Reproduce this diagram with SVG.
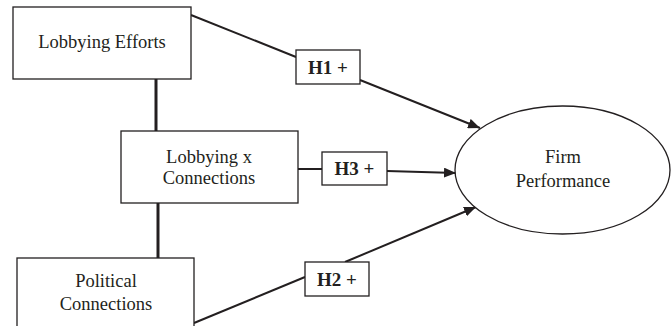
<svg xmlns="http://www.w3.org/2000/svg" width="672" height="326" viewBox="0 0 672 326">
<defs>
<style>
.box{fill:#fff;stroke:#231f20;stroke-width:1.3}
.t{font-family:"Liberation Serif","Times New Roman",serif;font-size:18.5px;fill:#231f20;text-anchor:middle}
.h{font-family:"Liberation Serif","Times New Roman",serif;font-size:19px;font-weight:bold;fill:#231f20;text-anchor:middle}
.ln{stroke:#231f20;stroke-width:2;fill:none}
.thick{stroke:#231f20;stroke-width:3;fill:none}
</style>
<marker id="arr" viewBox="0 0 12 10" refX="12" refY="5" markerWidth="12" markerHeight="10" markerUnits="userSpaceOnUse" orient="auto">
<path d="M0,0 L12,5 L0,10 z" fill="#231f20"/>
</marker>
</defs>
<rect width="672" height="326" fill="#fff"/>
<g id="connectors">
<line class="thick" x1="156" y1="79" x2="156" y2="131"/>
<line class="thick" x1="158" y1="203" x2="158" y2="258"/>
<line class="ln" x1="191" y1="15" x2="296" y2="57"/>
<line class="ln" x1="360" y1="80" x2="480" y2="128" marker-end="url(#arr)"/>
<line class="ln" x1="298" y1="169" x2="322" y2="169"/>
<line class="ln" x1="387" y1="171" x2="456" y2="173" marker-end="url(#arr)"/>
<line class="ln" x1="194" y1="323" x2="305" y2="277"/>
<line class="ln" x1="345" y1="262" x2="476" y2="207" marker-end="url(#arr)"/>
</g>
<g id="lobbying-efforts">
<rect class="box" x="13" y="7" width="178" height="72"/>
<text class="t" x="102" y="48">Lobbying Efforts</text>
</g>
<g id="lobbying-x-connections">
<rect class="box" x="121" y="131" width="177" height="72"/>
<text class="t" x="209" y="163">Lobbying x</text>
<text class="t" x="209" y="184">Connections</text>
</g>
<g id="political-connections">
<rect class="box" x="17" y="258" width="177" height="74"/>
<text class="t" x="106" y="287">Political</text>
<text class="t" x="106" y="310">Connections</text>
</g>
<g id="firm-performance">
<ellipse class="box" cx="562.5" cy="170" rx="107.5" ry="64"/>
<text class="t" x="563" y="163">Firm</text>
<text class="t" x="563" y="187">Performance</text>
</g>
<g id="h1">
<rect class="box" x="296" y="50" width="64" height="34"/>
<text class="h" x="328" y="74">H1 +</text>
</g>
<g id="h3">
<rect class="box" x="322" y="152" width="65" height="33"/>
<text class="h" x="354.5" y="175">H3 +</text>
</g>
<g id="h2">
<rect class="box" x="305" y="262" width="64" height="34"/>
<text class="h" x="337" y="286">H2 +</text>
</g>
</svg>
